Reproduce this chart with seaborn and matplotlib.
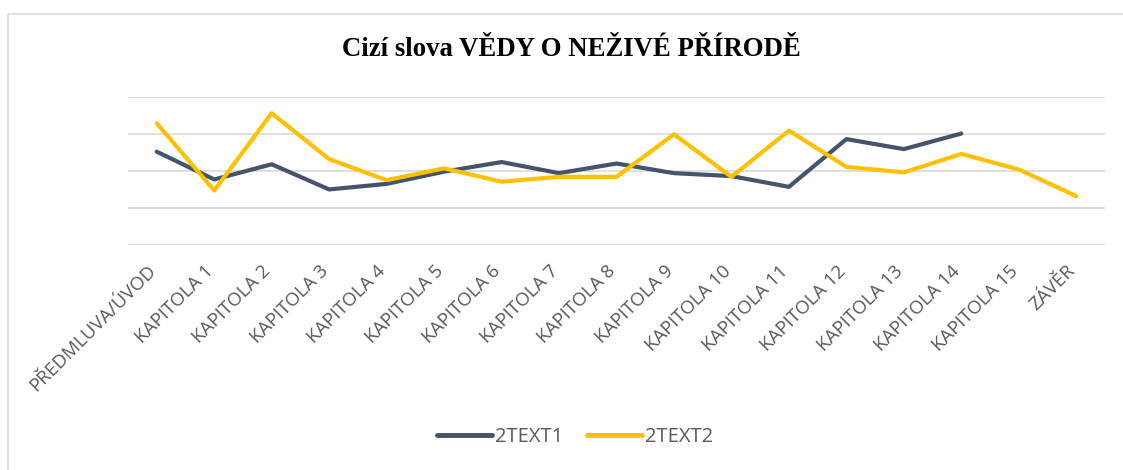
import matplotlib
matplotlib.use("Agg")
import matplotlib.pyplot as plt
import matplotlib.transforms as mtransforms
import seaborn as sns
import pandas as pd
from matplotlib.patches import Rectangle
from matplotlib.lines import Line2D

categories = ["PŘEDMLUVA/ÚVOD"] + [f"KAPITOLA {i}" for i in range(1, 16)] + ["ZÁVĚR"]
text1 = [2.53, 1.78, 2.19, 1.51, 1.66, 1.99, 2.25, 1.95, 2.21, 1.95, 1.87, 1.58, 2.87, 2.60, 3.02, None, None]
text2 = [3.30, 1.48, 3.57, 2.33, 1.76, 2.08, 1.72, 1.85, 1.85, 3.00, 1.85, 3.10, 2.12, 1.97, 2.47, 2.05, 1.33]
series_names = ["2TEXT1", "2TEXT2"]
colors = ["#44546A", "#FFC000"]
title = "Cizí slova VĚDY O NEŽIVÉ PŘÍRODĚ"

sns.set_theme(style="white")
plt.rcParams['font.family'] = ['Open Sans', 'DejaVu Sans']

W, H = 1123, 470
fig = plt.figure(figsize=(W / 100, H / 100), dpi=100)
fig.patches.append(Rectangle((8 / W, -1.0), 2.0, 2.0 - 14 / H, transform=fig.transFigure,
                             fill=False, edgecolor="#D9D9D9", linewidth=1.2))

ax = fig.add_axes([128 / W, 1 - 245.3 / H, (1105 - 128) / W, (245.3 - 97.3) / H])

df = pd.DataFrame({"x": list(range(len(categories))) * 2,
                   "val": text1 + text2,
                   "series": [series_names[0]] * len(categories) + [series_names[1]] * len(categories)})
df = df.dropna()

sns.lineplot(data=df, x="x", y="val", hue="series", palette=colors, linewidth=3,
             ax=ax, legend=False, solid_capstyle="round", solid_joinstyle="round")

ax.set_xlim(-0.5, len(categories) - 0.5)
ax.set_ylim(0, 4)
ax.set_yticks([0, 1, 2, 3, 4])
ax.set_yticklabels([])
ax.grid(axis="y", color="#D9D9D9", linewidth=1.2)
ax.set_axisbelow(True)
for s in ax.spines.values():
    s.set_visible(False)
ax.tick_params(axis="both", length=0)
ax.set_xticks(range(len(categories)))
ax.set_xticklabels(categories, rotation=45, ha="right", va="top", rotation_mode="anchor",
                   fontsize=13.5, color="#595959")
ax.tick_params(axis="x", pad=12)
offset = mtransforms.ScaledTranslation(-10 / 100, 0, fig.dpi_scale_trans)
for t in ax.get_xticklabels():
    t.set_transform(t.get_transform() + offset)
ax.set_xlabel("")
ax.set_ylabel("")
for line in ax.get_lines():
    line.set_clip_on(False)

fig.text(571 / W, 1 - 50 / H, title, ha="center", va="center", fontsize=19.3,
         fontweight="bold", family=["Liberation Serif", "DejaVu Serif"], color="black")

handles = [Line2D([0], [0], color=c, lw=3.5, solid_capstyle="round") for c in colors]
leg = fig.legend(handles, series_names, loc="center", bbox_to_anchor=(575 / W, 1 - 437 / H),
                 ncol=2, frameon=False, fontsize=14.5, handlelength=2.7, handletextpad=0.15,
                 columnspacing=1.2)
for t in leg.get_texts():
    t.set_color("#595959")

fig.savefig("out.png", dpi=100)
